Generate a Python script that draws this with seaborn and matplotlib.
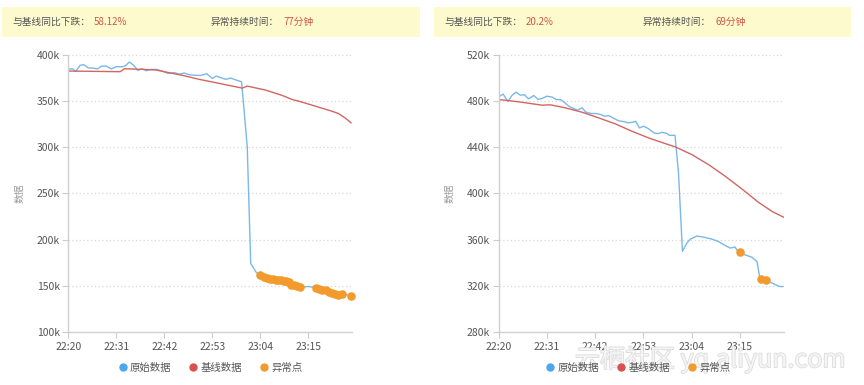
import pandas as pd
import matplotlib
matplotlib.use("Agg")
import matplotlib.pyplot as plt
import matplotlib.patheffects as pe
from matplotlib.lines import Line2D
from matplotlib.patches import Rectangle
import seaborn as sns

# --- data (minutes after 22:20, values in k) ---
left_raw_t = [0, 1.0, 1.7, 2.7, 3.6, 4.6, 5.7, 6.7, 7.6, 8.7, 9.9, 10.9, 12.5, 13.1, 14.0, 15.0,
              15.9, 16.9, 17.8, 19.0, 20.1, 21.3, 22.8, 24.3, 25.4, 26.6, 27.7, 29.2, 30.4, 31.7,
              33.0, 33.9, 35.2, 36.1, 37.2, 38.5, 39.7, 41.0, 41.8, 43.0,
              43.9, 44.8, 45.6, 46.3, 46.8, 47.5, 48.1, 48.8, 49.4, 49.9, 50.5, 51.1, 51.8, 52.4, 53.0,
              55.0, 56.7, 57.5, 58.2, 59.0, 59.8, 60.4, 61.1, 61.9, 62.8, 64.8]
left_raw_v = [384.4, 385.1, 382.2, 388.8, 389.5, 385.9, 385.9, 384.8, 388.0, 388.0, 384.8, 387.3,
              387.3, 388.4, 392.4, 388.8, 383.3, 385.1, 383.0, 384.4, 384.4, 383.0, 380.1, 380.8,
              379.3, 380.4, 378.6, 377.9, 377.9, 379.7, 374.6, 377.2, 375.0, 373.6, 375.0, 372.8,
              371.0, 301.0, 174.3, 165.0,
              161.2, 159.4, 158.3, 156.9, 156.9, 156.5, 156.2, 155.8, 155.1, 155.1, 154.3, 150.7,
              150.4, 149.6, 148.2,
              149.3, 147.8, 146.7, 146.0, 145.3, 143.8, 142.0, 141.0, 140.2, 141.6, 139.1]
left_base_t = [0, 11.9, 12.9, 17.1, 20.1, 22.4, 26.2, 30.0, 33.8, 37.6, 39.9, 41.0, 45.2, 49.0,
               51.3, 52.8, 56.6, 60.4, 61.9, 63.4, 64.8]
left_base_v = [382.6, 381.9, 385.1, 384.4, 383.7, 381.5, 377.9, 373.6, 370.0, 366.3, 364.1, 366.3,
               362.0, 356.2, 351.8, 350.0, 344.6, 339.1, 336.6, 331.9, 326.4]
left_anom_t = [43.9, 44.8, 45.6, 46.3, 46.8, 47.5, 48.1, 48.8, 49.4, 49.9, 50.5, 51.1, 51.8, 52.4,
               53.0, 56.7, 57.5, 58.2, 59.0, 59.8, 60.4, 61.1, 61.9, 62.8, 64.8]
left_anom_v = [161.2, 159.4, 158.3, 156.9, 156.9, 156.5, 156.2, 155.8, 155.1, 155.1, 154.3, 150.7,
               150.4, 149.6, 148.2, 147.8, 146.7, 146.0, 145.3, 143.8, 142.0, 141.0, 140.2, 141.6,
               139.1]

right_raw_t = [0, 1.0, 2.1, 3.0, 4.0, 4.9, 5.9, 6.8, 8.0, 9.0, 10.0, 11.0, 12.2, 13.1, 14.1, 15.1,
               16.0, 17.1, 18.0, 19.0, 19.9, 21.1, 22.2, 23.2, 24.2, 25.1, 26.2, 27.4, 28.5, 29.5,
               30.6, 31.2, 32.1, 33.1, 34.2, 35.4, 36.3, 37.3, 38.4, 38.9, 40.2, 41.0, 41.9,
               42.9, 43.7, 45.2, 46.7, 48.6, 50.1, 51.3, 52.8, 53.9, 54.3, 55.0, 56.2, 57.7, 58.9,
               59.5, 59.9, 61.0, 62.7, 64.0, 64.9]
right_raw_v = [483.8, 486.1, 479.7, 484.9, 487.8, 485.2, 485.5, 482.0, 484.9, 481.4, 482.6, 484.3,
               483.5, 481.4, 481.4, 478.5, 475.6, 473.6, 472.2, 474.2, 470.4, 469.3, 469.3, 468.4,
               466.9, 467.5, 465.2, 462.9, 462.3, 461.2, 461.7, 462.6, 456.8, 458.3, 456.0, 452.5,
               451.9, 453.0, 451.9, 450.4, 450.4, 418.0, 349.8,
               357.0, 360.5, 363.1, 362.2, 360.5, 358.4, 355.6, 352.7, 353.6, 351.2, 349.2, 346.8,
               344.8, 341.0, 328.0, 326.0, 324.9, 321.7, 319.4, 319.4]
right_base_t = [0, 4.6, 9.9, 11.8, 15.2, 19.0, 22.8, 26.6, 30.4, 34.2, 38.0, 40.3, 44.1, 47.9,
                51.7, 55.5, 59.3, 62.4, 65.0]
right_base_v = [481.4, 479.4, 476.5, 476.8, 474.2, 470.4, 465.5, 460.3, 453.9, 448.1, 443.2, 440.3,
                433.6, 424.9, 414.8, 403.8, 392.2, 384.3, 379.4]
right_anom_t = [55.0, 59.9, 61.0]
right_anom_v = [349.2, 326.0, 324.9]

x_ticks = [0, 11, 22, 33, 44, 55]
x_labels = ["22:20", "22:31", "22:42", "22:53", "23:04", "23:15"]
left_yticks = [100, 150, 200, 250, 300, 350, 400]
right_yticks = [280, 320, 360, 400, 440, 480, 520]
banner_left = ("58.12%", "77分钟")
banner_right = ("20.2%", "69分钟")

BLUE_LINE = "#7ab8ea"
RED_LINE = "#d26562"
BLUE = "#4aa6ee"
RED = "#d9504c"
ORANGE = "#f29a2b"
GRAY = "#555555"

sns.set_style("white")
plt.rcParams["font.family"] = ["Noto Sans CJK SC", "DejaVu Sans"]

fig = plt.figure(figsize=(8.64, 3.85), dpi=100)


def draw_panel(rect, raw_t, raw_v, base_t, base_v, anom_t, anom_v, yticks):
    ax = fig.add_axes(rect)
    sns.lineplot(x=raw_t, y=raw_v, ax=ax, color=BLUE_LINE, linewidth=1.0, sort=False)
    sns.lineplot(x=base_t, y=base_v, ax=ax, color=RED_LINE, linewidth=1.0, sort=False)
    sns.scatterplot(x=anom_t, y=anom_v, ax=ax, color=ORANGE, s=38, linewidth=0, zorder=5,
                    clip_on=False)
    ax.set_xlim(0, 65)
    ax.set_ylim(yticks[0], yticks[-1])
    ax.set_xticks(x_ticks)
    ax.set_xticklabels(x_labels)
    ax.set_yticks(yticks)
    ax.set_yticklabels([f"{v}k" for v in yticks])
    ax.tick_params(axis="both", labelsize=7.5, labelcolor=GRAY, color="#cccccc",
                   length=4, width=0.8, direction="out", bottom=True, left=True)
    ax.tick_params(axis="y", pad=2)
    for side in ["top", "right"]:
        ax.spines[side].set_visible(False)
    for side in ["left", "bottom"]:
        ax.spines[side].set_color("#d0d0d0")
        ax.spines[side].set_linewidth(1.0)
    ax.yaxis.grid(True, linestyle=(0, (1, 2)), color="#d8d8d8", linewidth=0.9)
    ax.set_axisbelow(True)
    ax.set_ylabel("数据", fontsize=7, color="#999999", labelpad=9)
    ax.set_xlabel("")
    return ax


ax1 = draw_panel([0.0790, 0.1377, 0.3284, 0.7195], left_raw_t, left_raw_v, left_base_t,
                 left_base_v, left_anom_t, left_anom_v, left_yticks)
ax2 = draw_panel([0.5772, 0.1377, 0.3299, 0.7195], right_raw_t, right_raw_v, right_base_t,
                 right_base_v, right_anom_t, right_anom_v, right_yticks)

# --- banners ---
for x0, w, (drop, dur) in [(0.0023, 0.484, banner_left), (0.5023, 0.483, banner_right)]:
    fig.add_artist(Rectangle((x0, 0.904), w, 0.078, transform=fig.transFigure,
                             facecolor="#fdfacd", edgecolor="none", zorder=0))
    fig.text(x0 + 0.0116, 0.943, "与基线同比下跌：", fontsize=7, color=GRAY, va="center")
    fig.text(x0 + 0.106, 0.943, drop, fontsize=7, color="#d0564a", va="center")
    fig.text(x0 + 0.2415, 0.943, "异常持续时间：", fontsize=7, color=GRAY, va="center")
    fig.text(x0 + 0.326, 0.943, dur, fontsize=7, color="#d0564a", va="center")

# --- legends ---
handles = [
    Line2D([], [], marker="o", linestyle="", color=BLUE, markersize=5, label="原始数据"),
    Line2D([], [], marker="o", linestyle="", color=RED, markersize=5, label="基线数据"),
    Line2D([], [], marker="o", linestyle="", color=ORANGE, markersize=5, label="异常点"),
]
for cx in [0.243, 0.738]:
    fig.legend(handles=handles, loc="center", bbox_to_anchor=(cx, 0.044), ncol=3,
               frameon=False, fontsize=7.5, handletextpad=0.2, columnspacing=1.6,
               handlelength=1.0, labelcolor=GRAY)

# --- watermark ---
fig.text(0.822, 0.066, "云栖社区 yq.aliyun.com", fontsize=18, color="#f7f7f7", ha="center",
         va="center", alpha=0.9,
         path_effects=[pe.withStroke(linewidth=1.2, foreground="#d9d9d9")])

fig.savefig("out.png", dpi=100)
